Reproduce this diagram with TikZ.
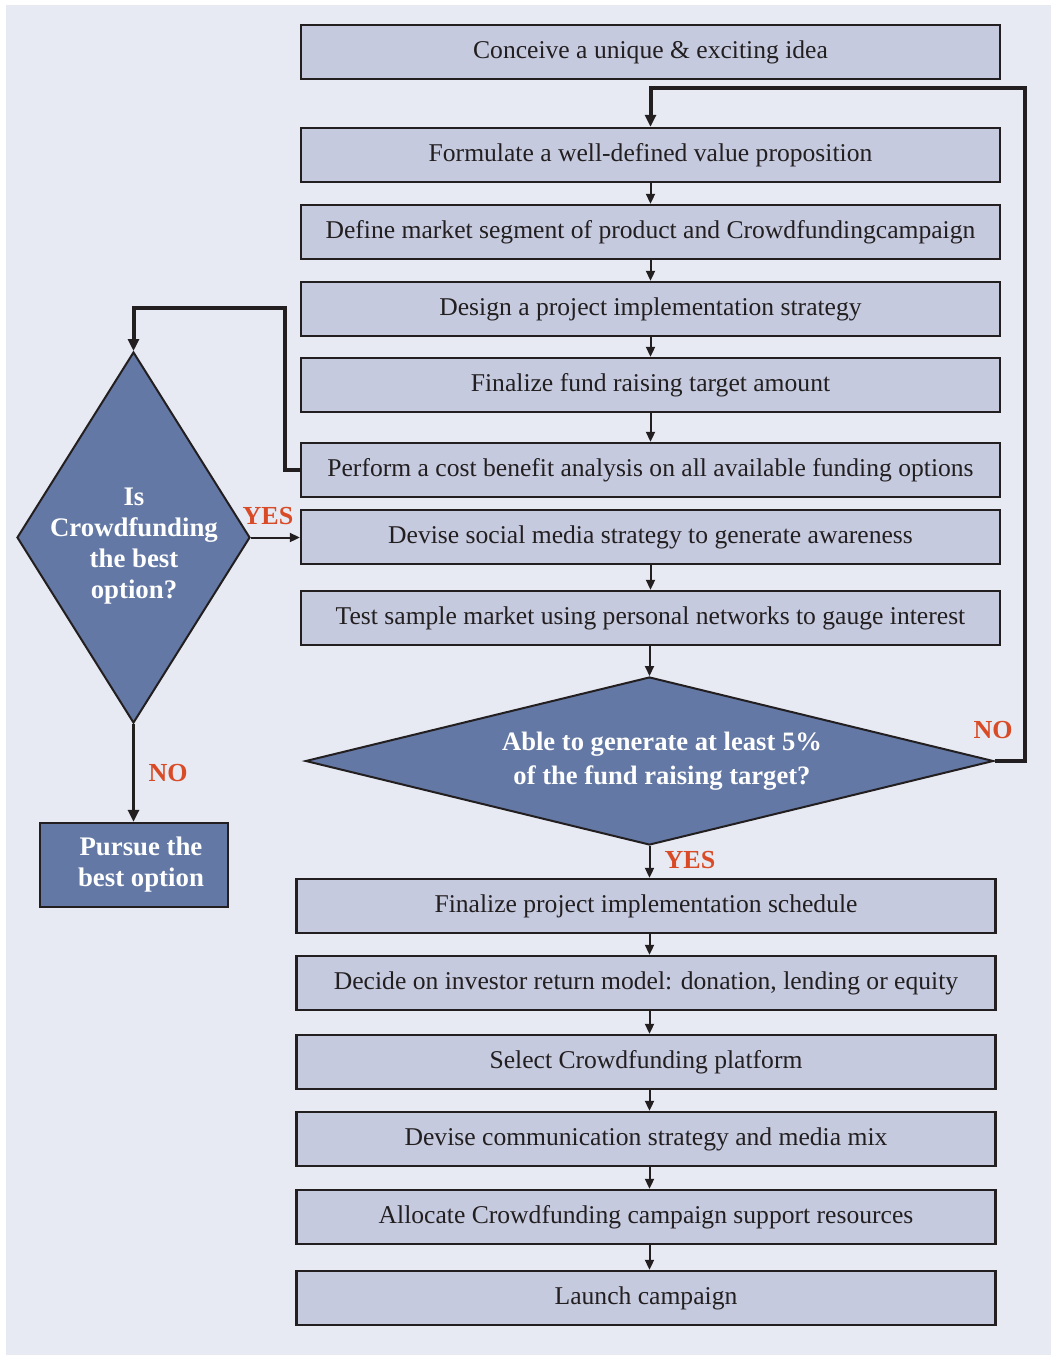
\documentclass[tikz,border=0pt]{standalone}
\usepackage{fontspec}
\setmainfont{Liberation Serif}
\usetikzlibrary{shapes.geometric,arrows.meta}
\definecolor{bgpanel}{HTML}{E7EAF3}
\definecolor{boxfill}{HTML}{C5CADF}
\definecolor{decfill}{HTML}{6378A4}
\definecolor{labred}{HTML}{D94B26}
\definecolor{ink}{HTML}{231F20}
\tikzset{
  stepbox/.style={draw=ink, line width=1.2pt, fill=boxfill, minimum width=349.5pt,
    minimum height=27pt, inner sep=0pt, text=ink, font=\fontsize{12.8}{15}\selectfont},
  decision/.style={diamond, draw=ink, line width=1pt, fill=decfill, inner sep=0pt},
  dectext/.style={text=white, align=center, font=\fontsize{13.4}{15.5}\selectfont\bfseries},
  answer/.style={text=labred, font=\fontsize{13}{15}\selectfont\bfseries},
  flow/.style={draw=ink, line width=1pt, -{Triangle[length=5pt,width=4.5pt]}},
  loopback/.style={draw=ink, line width=2pt, -{Triangle[length=6pt,width=5.5pt]}},
}
\begin{document}
\begin{tikzpicture}[x=0.5pt,y=-0.5pt]
  \useasboundingbox (0,0) rectangle (1051,1355);
  \fill[bgpanel] (6,5) rectangle (1051,1355);

  % upper column
  \node[stepbox] (idea)     at (650.5,52)  {Conceive a unique \& exciting idea};
  \node[stepbox] (value)    at (650.5,155) {Formulate a well-defined value proposition};
  \node[stepbox] (segment)  at (650.5,232) {Define market segment of product and Crowdfundingcampaign};
  \node[stepbox] (strategy) at (650.5,309) {Design a project implementation strategy};
  \node[stepbox] (target)   at (650.5,385) {Finalize fund raising target amount};
  \node[stepbox] (cost)     at (650.5,470) {Perform a cost benefit analysis on all available funding options};
  \node[stepbox] (social)   at (650.5,537) {Devise social media strategy to generate awareness};
  \node[stepbox] (sample)   at (650.5,618) {Test sample market using personal networks to gauge interest};

  % left decision
  \node[decision, minimum width=116.5pt, minimum height=185.5pt] (isbest) at (133.5,537.5) {};
  \node[dectext] (isbesttxt) at (134,546) {Is\\Crowdfunding\\the best\\option?};
  \node[draw=ink, line width=1.2pt, fill=decfill, minimum width=94pt, minimum height=42pt,
    inner sep=0pt] (pursue) at (134,865) {};
  \node[dectext] (pursuetxt) at (141,865) {Pursue the\\best option};

  % main decision
  \node[decision, minimum width=344pt, minimum height=84pt] (five) at (649.5,761) {};
  \node[dectext, font=\fontsize{13.3}{17}\selectfont\bfseries] (fivetxt) at (662,761)
    {Able to generate at least 5\%\\of the fund raising target?};

  % lower column
  \node[stepbox] (schedule) at (646,906)  {Finalize project implementation schedule};
  \node[stepbox] (investor) at (646,983)  {Decide on investor return model: donation, lending or equity};
  \node[stepbox] (platform) at (646,1062) {Select Crowdfunding platform};
  \node[stepbox] (comms)    at (646,1139) {Devise communication strategy and media mix};
  \node[stepbox] (resource) at (646,1217) {Allocate Crowdfunding campaign support resources};
  \node[stepbox] (launch)   at (646,1298) {Launch campaign};

  % straight arrows
  \draw[flow] (value) -- (segment);
  \draw[flow] (segment) -- (strategy);
  \draw[flow] (strategy) -- (target);
  \draw[flow] (target) -- (cost);
  \draw[flow] (social) -- (sample);
  \draw[flow] (sample.south -| five.north) -- (five.north);
  \draw[flow] (five.south) -- (schedule.north -| five.south);
  \draw[flow] (schedule.south -| five.south) -- (investor.north -| five.south);
  \draw[flow] (investor.south -| five.south) -- (platform.north -| five.south);
  \draw[flow] (platform.south -| five.south) -- (comms.north -| five.south);
  \draw[flow] (comms.south -| five.south) -- (resource.north -| five.south);
  \draw[flow] (resource.south -| five.south) -- (launch.north -| five.south);
  \draw[flow] (isbest.east) -- (social.west |- isbest.east);
  \draw[loopback, line width=1.6pt] (isbest.south) -- (pursue.north -| isbest.south);

  % loops
  \coordinate (loopa) at (285,470);
  \coordinate (loopb) at (1025,88);
  \draw[loopback] (cost.west) -- (loopa) |- (133.5,308) -- (isbest.north);
  \draw[loopback] (five.east) -| (loopb) -| (value.north);

  % answers
  \node[answer] (yesa) at (268,516) {YES};
  \node[answer] (noa)  at (168,773) {NO};
  \node[answer] (nob)  at (993,730) {NO};
  \node[answer] (yesb) at (690,860) {YES};
\end{tikzpicture}
\end{document}
